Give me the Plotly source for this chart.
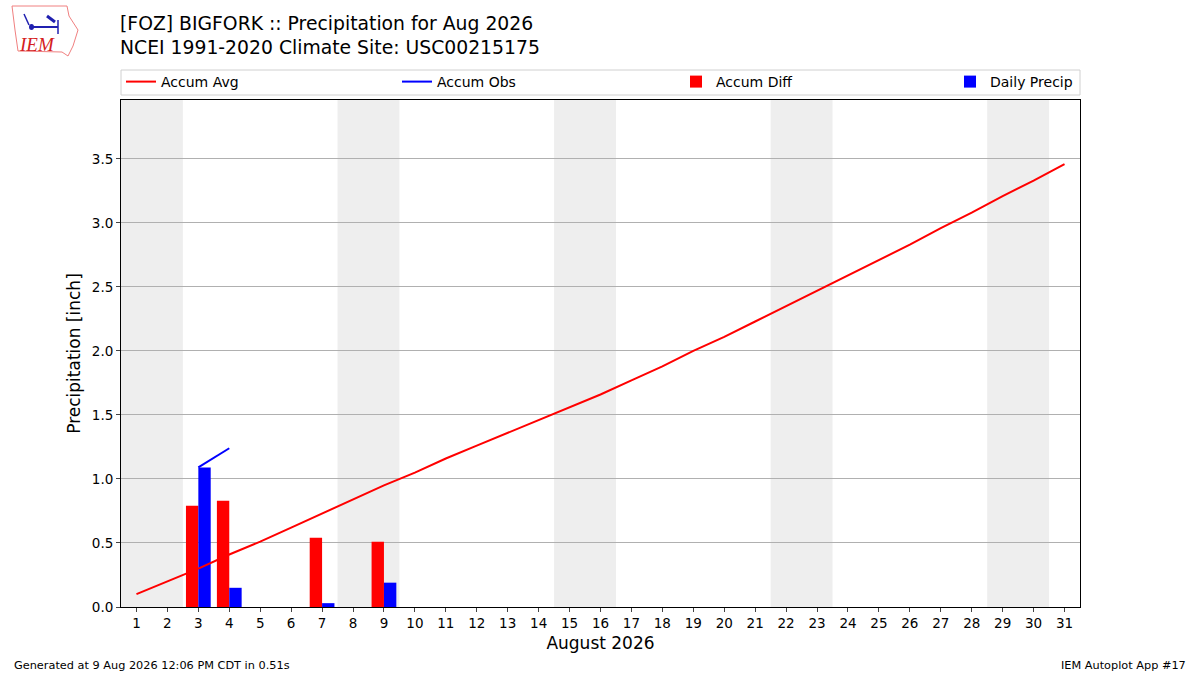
import plotly.graph_objects as go

# daily data for Aug 2026
days = list(range(1, 32))
accum_avg = [0.10, 0.20, 0.30, 0.41, 0.51, 0.62, 0.73, 0.84, 0.95, 1.05,
             1.16, 1.26, 1.36, 1.46, 1.56, 1.66, 1.77, 1.88, 2.00, 2.11,
             2.23, 2.35, 2.47, 2.59, 2.71, 2.83, 2.96, 3.08, 3.21, 3.33, 3.46]
accum_obs = [None, None, 1.09, 1.24, None, None, 1.27, None, 1.46] + [None] * 22
accum_diff = [None, None, 0.79, 0.83, None, None, 0.54, None, 0.51] + [None] * 22
daily_precip = [None, None, 1.09, 0.15, None, None, 0.03, None, 0.19] + [None] * 22
weekends = [(0.5, 2.5), (7.5, 9.5), (14.5, 16.5), (21.5, 23.5), (28.5, 30.5)]

font = "DejaVu Sans"
# plot area in pixels
L, R, T, B = 121, 1080, 100, 607
W, H = R - L, B - T


def px(x):
    return (x - L) / W


def py(y):
    return (B - y) / H


fig = go.Figure()
fig.add_trace(go.Scatter(x=days, y=accum_avg, mode="lines", name="Accum Avg",
                         line=dict(color="red", width=2), legend="legend"))
fig.add_trace(go.Scatter(x=days, y=accum_obs, mode="lines", name="Accum Obs",
                         line=dict(color="blue", width=2), legend="legend2"))
fig.add_trace(go.Bar(x=days, y=accum_diff, name="Accum Diff", marker_color="red",
                     marker_line_width=0, width=0.4, offset=-0.4, legend="legend3"))
fig.add_trace(go.Bar(x=days, y=daily_precip, name="Daily Precip", marker_color="blue",
                     marker_line_width=0, width=0.4, offset=0, legend="legend4"))

for x0, x1 in weekends:
    fig.add_shape(type="rect", xref="x", yref="paper", x0=x0, x1=x1, y0=0, y1=1,
                  fillcolor="#eeeeee", line_width=0, layer="below")

# legend frame
fig.add_shape(type="rect", xref="paper", yref="paper", x0=px(121), x1=px(1080),
              y0=py(95), y1=py(70), line=dict(color="#d0d0d0", width=1), fillcolor="white")


def leg(xpix):
    return dict(orientation="h", x=px(xpix), xanchor="left", y=py(82), yanchor="middle",
                borderwidth=0, bgcolor="rgba(0,0,0,0)", font=dict(size=14, family=font))


fig.update_layout(
    width=1200, height=675,
    margin=dict(l=L, r=1200 - R, t=T, b=675 - B),
    plot_bgcolor="white", paper_bgcolor="white",
    font=dict(family=font, size=13.5, color="black"),
    barmode="overlay",
    legend=leg(121), legend2=leg(397), legend3=leg(676), legend4=leg(950),
    showlegend=True,
)
fig.update_xaxes(range=[0.5, 31.5], tickmode="array", tickvals=days, ticks="outside",
                 ticklen=4, showline=True, linecolor="black", mirror=True, showgrid=False,
                 title=dict(text="August 2026", font=dict(size=17), standoff=6))
fig.update_yaxes(range=[0, 3.96], tickmode="array", tickvals=[0, 0.5, 1, 1.5, 2, 2.5, 3, 3.5],
                 tickformat=".1f", ticks="outside", ticklen=4, showline=True, linecolor="black",
                 mirror=True, showgrid=True, gridcolor="#b0b0b0", zeroline=False,
                 title=dict(text="Precipitation [inch]", font=dict(size=17), standoff=6))

# title lines
fig.add_annotation(text="[FOZ] BIGFORK :: Precipitation for Aug 2026", xref="paper", yref="paper",
                   x=px(118), y=py(24), xanchor="left", yanchor="middle", showarrow=False,
                   font=dict(size=18.8))
fig.add_annotation(text="NCEI 1991-2020 Climate Site: USC00215175", xref="paper", yref="paper",
                   x=px(118), y=py(48), xanchor="left", yanchor="middle", showarrow=False,
                   font=dict(size=18.8))

# rough IEM logo
outline = [(12, 6), (67, 6), (69, 16), (78, 30), (73, 46), (68, 56), (62, 52), (18, 51), (15, 30), (12, 6)]
path = "M " + " L ".join(f"{px(a)},{py(b)}" for a, b in outline) + " Z"
fig.add_shape(type="path", xref="paper", yref="paper", path=path,
              line=dict(color="#f08080", width=1))
fig.add_shape(type="line", xref="paper", yref="paper", x0=px(30), y0=py(27), x1=px(58), y1=py(27),
              line=dict(color="#2020b0", width=2))
fig.add_shape(type="circle", xref="paper", yref="paper", x0=px(29), y0=py(24), x1=px(34), y1=py(30),
              fillcolor="#2020b0", line_width=0)
fig.add_shape(type="line", xref="paper", yref="paper", x0=px(47), y0=py(16), x1=px(55), y1=py(22),
              line=dict(color="#2020b0", width=3))
fig.add_shape(type="line", xref="paper", yref="paper", x0=px(58), y0=py(20), x1=px(58), y1=py(34),
              line=dict(color="#2020b0", width=1.5))
fig.add_shape(type="line", xref="paper", yref="paper", x0=px(24), y0=py(14), x1=px(29), y1=py(25),
              line=dict(color="#2020b0", width=1.5))
fig.add_annotation(text="<i>IEM</i>", xref="paper", yref="paper", x=px(37), y=py(45),
                   xanchor="center", yanchor="middle", showarrow=False,
                   font=dict(family="Liberation Serif", size=19, color="#d42020"))

# footer
fig.add_annotation(text="Generated at 9 Aug 2026 12:06 PM CDT in 0.51s", xref="paper", yref="paper",
                   x=px(12), y=py(665), xanchor="left", yanchor="middle",
                   showarrow=False, font=dict(size=11.3))
fig.add_annotation(text="IEM Autoplot App #17", xref="paper", yref="paper",
                   x=px(1188), y=py(665), xanchor="right", yanchor="middle",
                   showarrow=False, font=dict(size=11.3))

fig.write_html("out.html", config={"displayModeBar": False},
               post_script="document.body.style.margin='0';")
